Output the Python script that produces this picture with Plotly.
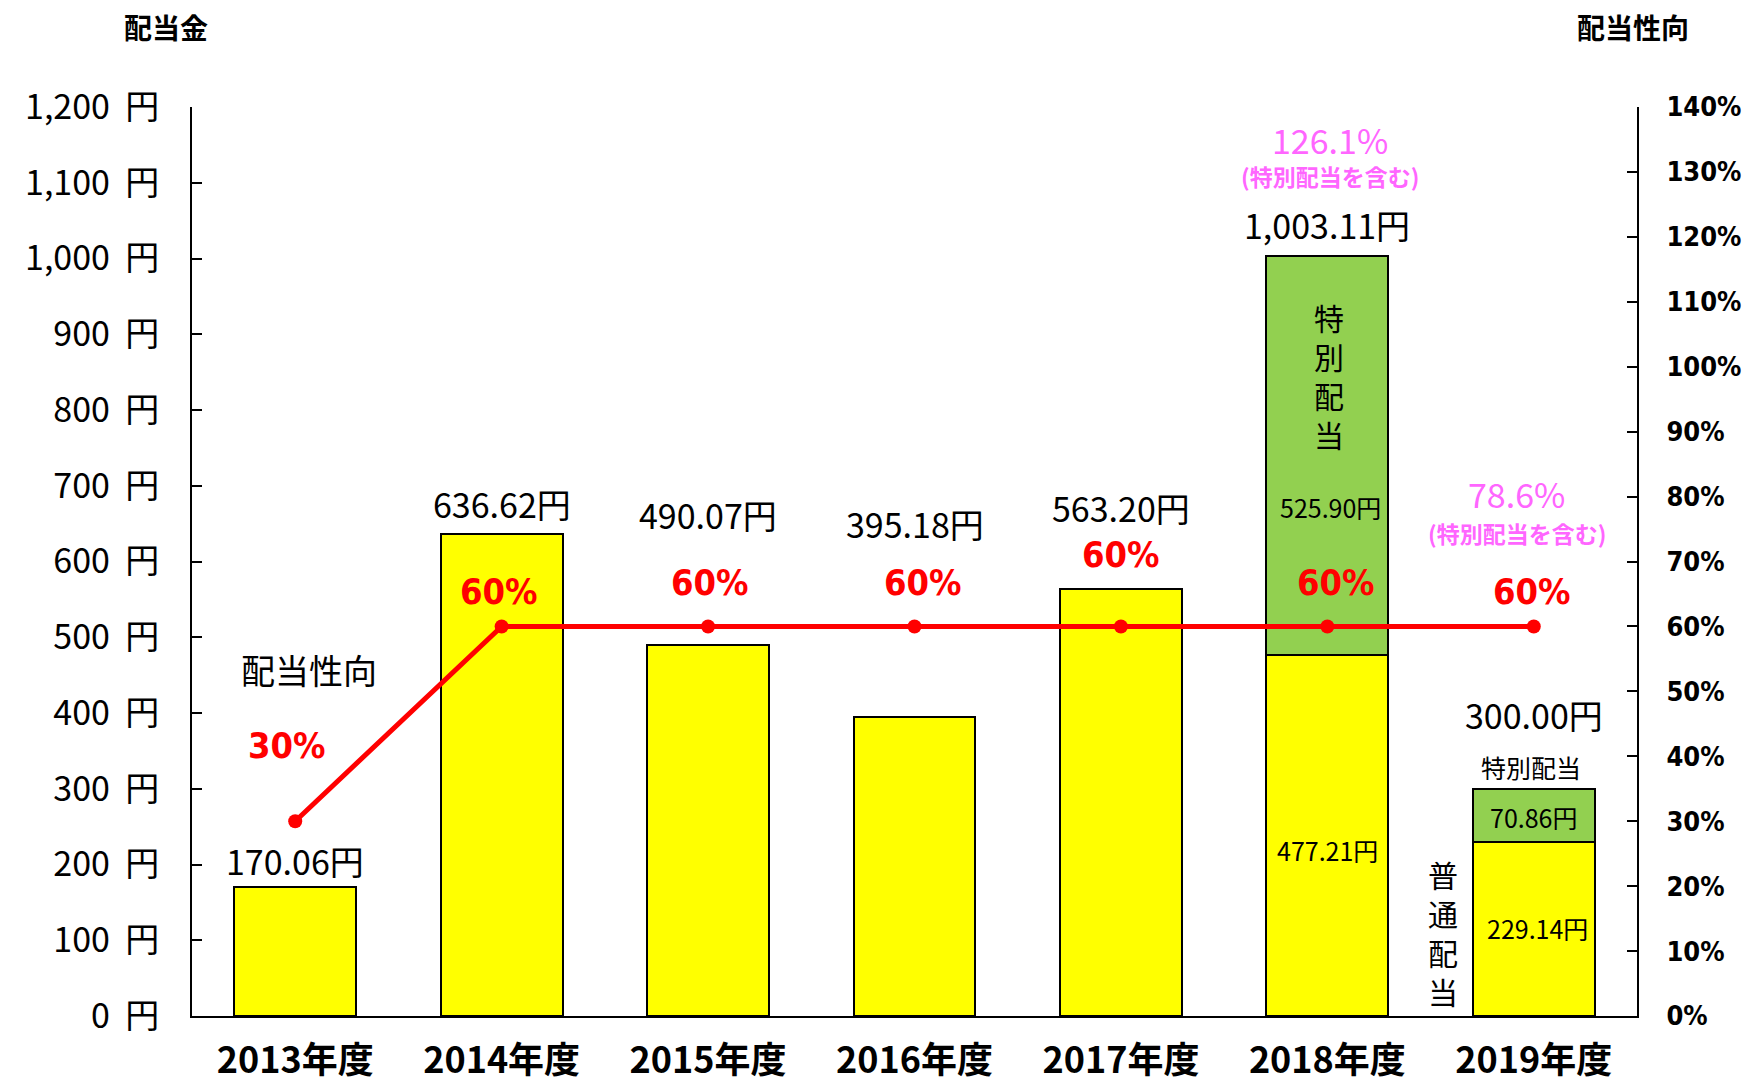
import plotly.graph_objects as go

years = ["2013年度", "2014年度", "2015年度", "2016年度", "2017年度", "2018年度", "2019年度"]
regular = [170.06, 636.62, 490.07, 395.18, 563.20, 477.21, 229.14]
special = [None, None, None, None, None, 525.90, 70.86]
totals = [170.06, 636.62, 490.07, 395.18, 563.20, 1003.11, 300.00]
total_labels = ["170.06円", "636.62円", "490.07円", "395.18円", "563.20円", "1,003.11円", "300.00円"]
payout = [30, 60, 60, 60, 60, 60, 60]
payout_labels = ["30%", "60%", "60%", "60%", "60%", "60%", "60%"]
incl_special = {"2018年度": "126.1%", "2019年度": "78.6%"}

left_ticks = list(range(0, 1201, 100))
left_ticktext = [f"{v:,}\u00a0\u00a0円" for v in left_ticks]
right_ticks = list(range(0, 141, 10))
right_ticktext = [f"{v}%" for v in right_ticks]

JP = "Noto Sans CJK JP"
NARROW = "Liberation Sans Narrow, DejaVu Sans Condensed, Roboto Condensed, Roboto, sans-serif"

fig = go.Figure()
fig.add_bar(x=years, y=regular, name="普通配当", marker=dict(color="#FFFF00", line=dict(color="black", width=2)), yaxis="y")
fig.add_bar(x=years, y=special, name="特別配当", marker=dict(color="#92D050", line=dict(color="black", width=2)), yaxis="y")
fig.add_scatter(x=years, y=payout, yaxis="y2", mode="lines+markers", line=dict(color="#FF0000", width=5),
                marker=dict(size=14, color="#FF0000"), name="配当性向")

ann = []
# total value labels (shift of label centre above bar top, in px)
shifts = [27, 30, 130, 193, 82, 32, 74]
for yr, tot, lab, sh in zip(years, totals, total_labels, shifts):
    ann.append(dict(x=yr, y=tot, xref="x", yref="y", text=lab, showarrow=False, yanchor="middle",
                    yshift=sh, font=dict(family=JP, size=34, color="black")))
# payout labels
p_shift = [76, 35, 44, 44, 72, 44, 35]
p_x = [-8, -3, 2, 8, 0, 9, -2]
for yr, p, lab, sh, xs in zip(years, payout, payout_labels, p_shift, p_x):
    ann.append(dict(x=yr, y=p, xref="x", yref="y2", text=f"<b>{lab}</b>", showarrow=False, yanchor="middle",
                    yshift=sh, xshift=xs, font=dict(family=NARROW, size=36, color="#FF0000")))
# including-special payout labels
inc_pos = {"2018年度": (117, 80, 3), "2019年度": (295, 256, -17)}
for yr, lab in incl_special.items():
    tot = totals[years.index(yr)]
    s1, s2, xs = inc_pos[yr]
    ann.append(dict(x=yr, y=tot, xref="x", yref="y", text=lab, showarrow=False, yanchor="middle",
                    yshift=s1, xshift=xs, font=dict(family=JP, size=34, color="#FF66FF")))
    ann.append(dict(x=yr, y=tot, xref="x", yref="y", text="<b>(特別配当を含む)</b>", showarrow=False, yanchor="middle",
                    yshift=s2, xshift=xs, font=dict(family=JP, size=23, color="#FF66FF")))

# vertical labels
ann.append(dict(x="2018年度", y=totals[5], xref="x", yref="y", text="特<br>別<br>配<br>当", showarrow=False,
                yanchor="middle", yshift=-119, xshift=2, font=dict(family=JP, size=30, color="black")))
ann.append(dict(x="2019年度", y=0, xref="x", yref="y", text="普<br>通<br>配<br>当", showarrow=False,
                yanchor="middle", yshift=84, xshift=-91, font=dict(family=JP, size=30, color="black")))

ann.append(dict(x="2018年度", y=totals[5], xref="x", yref="y", text="525.90円", showarrow=False,
                yanchor="middle", yshift=-251, xshift=3, font=dict(family=JP, size=25, color="black")))
ann.append(dict(x="2018年度", y=regular[5], xref="x", yref="y", text="477.21円", showarrow=False,
                yanchor="middle", yshift=-195, font=dict(family=JP, size=25, color="black")))
ann.append(dict(x="2019年度", y=totals[6], xref="x", yref="y", text="70.86円", showarrow=False,
                yanchor="middle", yshift=-28, font=dict(family=JP, size=25, color="black")))
ann.append(dict(x="2019年度", y=regular[6], xref="x", yref="y", text="229.14円", showarrow=False,
                yanchor="middle", yshift=-86, xshift=4, font=dict(family=JP, size=25, color="black")))
ann.append(dict(x="2019年度", y=totals[6], xref="x", yref="y", text="特別配当", showarrow=False,
                yanchor="middle", yshift=22, xshift=-3, font=dict(family=JP, size=25, color="black")))
ann.append(dict(x="2013年度", y=payout[0], xref="x", yref="y2", text="配当性向", showarrow=False,
                yanchor="middle", xshift=14, yshift=152, font=dict(family=JP, size=34, color="black")))

# axis titles
ann.append(dict(x=0, y=1, xref="paper", yref="paper", text="<b>配当金</b>", showarrow=False, xanchor="center",
                yanchor="middle", xshift=-26, yshift=80, font=dict(family=JP, size=28, color="black")))
ann.append(dict(x=1, y=1, xref="paper", yref="paper", text="<b>配当性向</b>", showarrow=False, xanchor="center",
                yanchor="middle", xshift=-4, yshift=80, font=dict(family=JP, size=28, color="black")))

fig.update_layout(
    width=1748, height=1089,
    margin=dict(l=192, r=111, t=107, b=73, autoexpand=False),
    paper_bgcolor="white", plot_bgcolor="white",
    barmode="stack", bargap=0.41,
    showlegend=False,
    annotations=ann,
    xaxis=dict(showline=True, linecolor="black", linewidth=2, ticks="", showgrid=False, automargin=False,
               tickfont=dict(family=JP, size=36, color="black", weight="bold"), ticklabelstandoff=12),
    yaxis=dict(range=[0, 1200], tickvals=left_ticks, ticktext=left_ticktext, showgrid=False, zeroline=False,
               showline=True, linecolor="black", linewidth=2, ticks="inside", ticklen=10, tickwidth=2,
               tickcolor="black", automargin=False,
               tickfont=dict(family=JP, size=34, color="black"), ticklabelstandoff=24),
    yaxis2=dict(range=[0, 140], tickvals=right_ticks, ticktext=right_ticktext, overlaying="y", side="right",
                showgrid=False, zeroline=False, showline=True, linecolor="black", linewidth=2, ticks="inside",
                ticklen=10, tickwidth=2, tickcolor="black", automargin=False,
                tickfont=dict(family=NARROW, size=27, color="black", weight="bold"), ticklabelstandoff=22),
)

fig.write_html("out.html", config={"displayModeBar": False},
               post_script="document.body.style.margin='0';document.body.style.padding='0';")
